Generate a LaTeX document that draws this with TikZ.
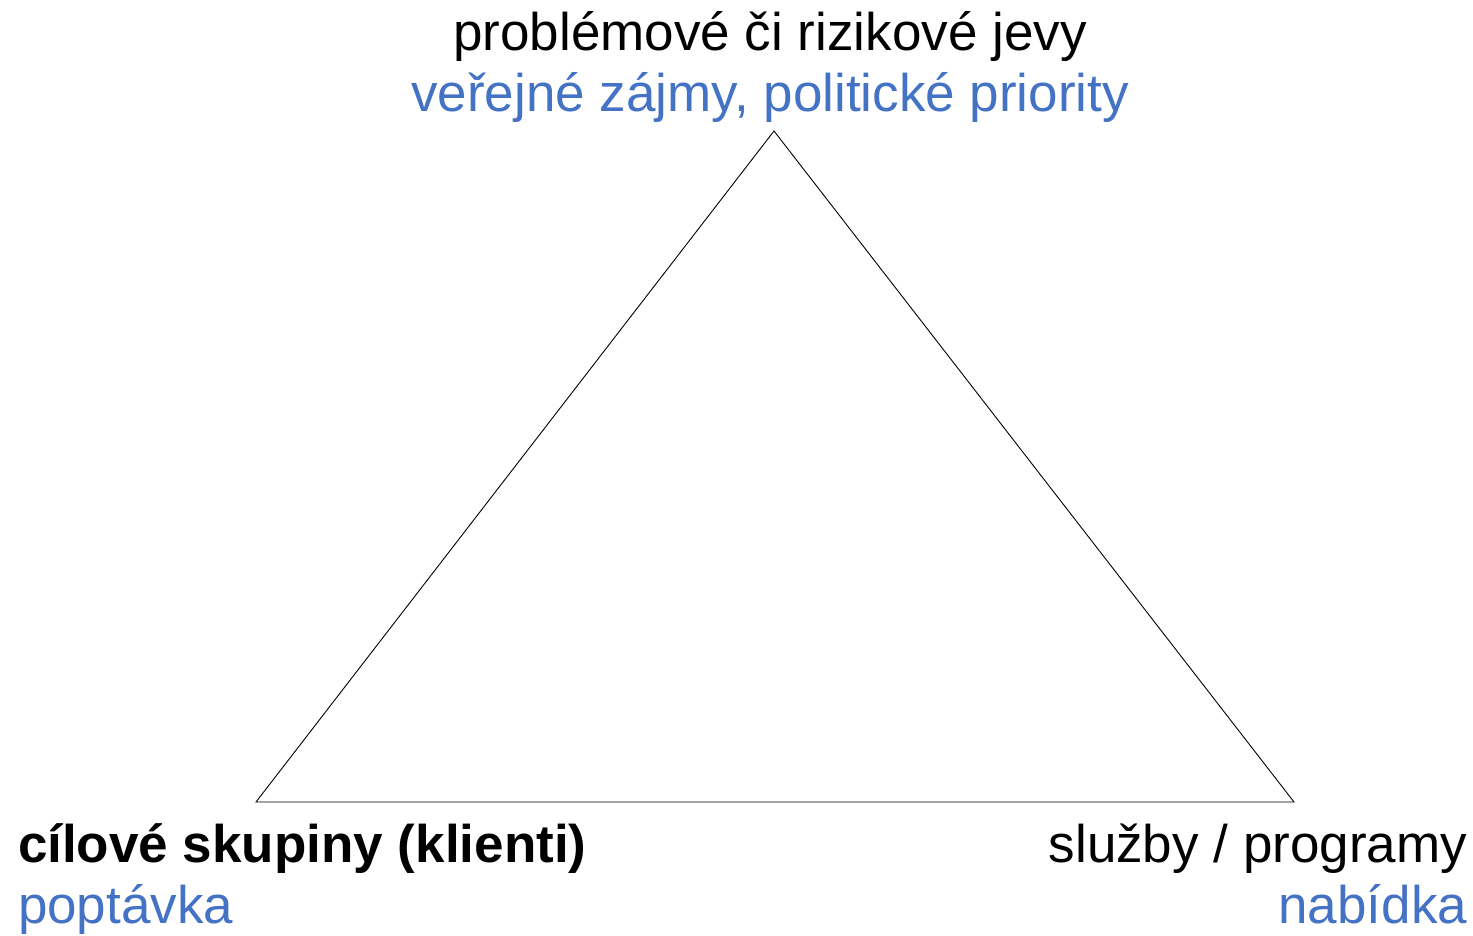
\documentclass[tikz,border=0pt]{standalone}
\usepackage{fontspec}
\setmainfont{Liberation Sans}
\definecolor{officeblue}{HTML}{4472C4}
\tikzset{
  lbl/.style={inner sep=0pt, outer sep=0pt, font=\fontsize{53}{60}\selectfont},
  blu/.style={lbl, text=officeblue},
  edge/.style={draw=black, line width=0.9pt, line join=miter}
}
\begin{document}
\begin{tikzpicture}[x=1pt,y=-1pt]
\useasboundingbox (0,0) rectangle (1473,935);
\coordinate (A) at (774,131);
\coordinate (B) at (256,802);
\coordinate (C) at (1294,802);
\draw[edge] (A) -- (B) -- (C) -- cycle;
\node[lbl, anchor=base] (top1) at (770,50) {problémové či rizikové jevy};
\node[blu, anchor=base] (top2) at (770,111) {veřejné zájmy, politické priority};
\node[lbl, anchor=base west, font=\fontsize{53}{60}\selectfont\bfseries] (bl1) at (18,862) {cílové skupiny (klienti)};
\node[blu, anchor=base west] (bl2) at (18,923) {poptávka};
\node[lbl, anchor=base east] (br1) at (1467,862) {služby / programy};
\node[blu, anchor=base east] (br2) at (1467,923) {nabídka};
\end{tikzpicture}
\end{document}
